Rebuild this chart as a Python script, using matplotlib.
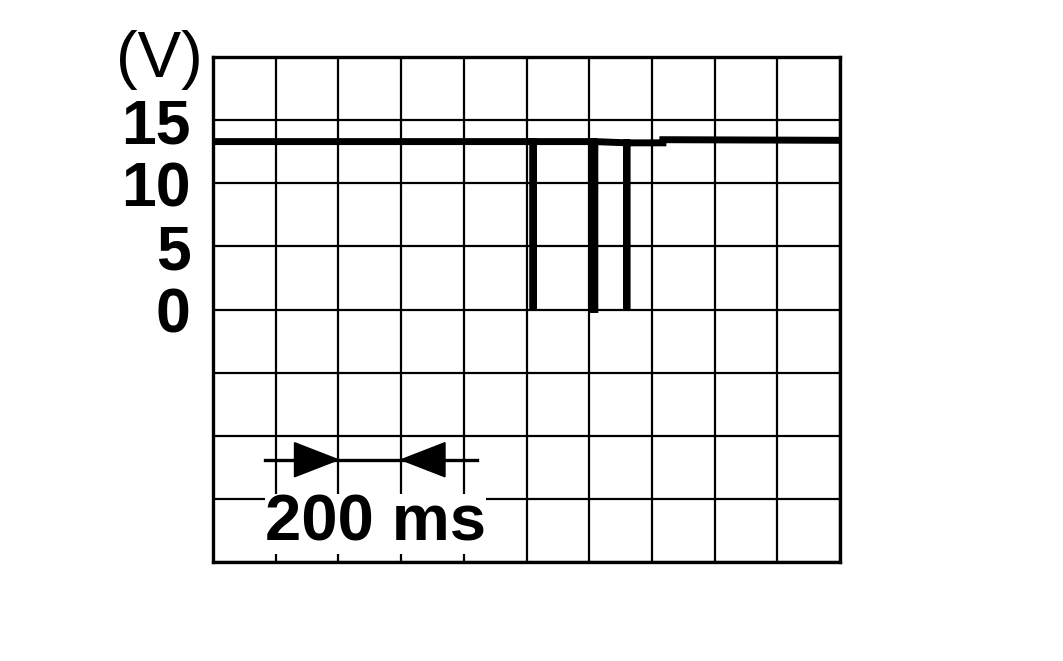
import numpy as np
import matplotlib.pyplot as plt

# сигнал (мс, В)
t_ms = [0, 1021, 1021, 1021, 1213, 1213, 1218, 1218, 1320, 1320, 1320, 1435, 1435, 2000]
volts = [13.3, 13.3, 0.0, 13.3, 13.3, 0.0, 0.0, 13.3, 13.2, 0.0, 13.2, 13.2, 13.45, 13.4]

y_ticks = [-20, -15, -10, -5, 0, 5, 10, 15, 20]
y_labels = ['', '', '', '', '0', '5', '10', '15', '']
x_ticks = list(range(0, 2001, 200))

scale_ms = 200
scale_start = 400

plt.rcParams['font.family'] = ['Liberation Sans', 'DejaVu Sans']

fig = plt.figure(figsize=(10.63, 6.61), dpi=100)
ax = fig.add_axes([213/1063, 1-562/661, 627/1063, 505/661])

ax.plot(t_ms, volts, color='black', lw=5.0, solid_joinstyle='miter', solid_capstyle='butt', zorder=3)

ax.set_xlim(0, 2000)
ax.set_ylim(-20, 20)
ax.set_xticks(x_ticks)
ax.set_xticklabels([])
ax.set_yticks(y_ticks)
ax.set_yticklabels(y_labels, fontsize=45, fontweight='bold')
ax.tick_params(length=0, pad=16)
ax.grid(True, color='black', lw=1.6)
for s in ax.spines.values():
    s.set_linewidth(2.4)

# (V)
fig.text(159/1063, 1-60/661, '(V)', fontsize=47, ha='center', va='center')

# масштаб 200 ms
ay = -11.9
ax.plot([166, 842], [ay, ay], color='black', lw=2.4, zorder=4)
hl, hw = 140, 1.35
t1 = scale_start
t2 = scale_start + scale_ms
ax.fill([t1 - hl, t1, t1 - hl], [ay - hw, ay, ay + hw], color='black', zorder=4)
ax.fill([t2 + hl, t2, t2 + hl], [ay - hw, ay, ay + hw], color='black', zorder=4)

ax.text(517, -18.3, '200 ms', fontsize=47, fontweight='bold', ha='center', va='baseline',
        bbox=dict(boxstyle='square,pad=0', facecolor='white', edgecolor='none'), zorder=5)

fig.savefig('out.png', dpi=100)
